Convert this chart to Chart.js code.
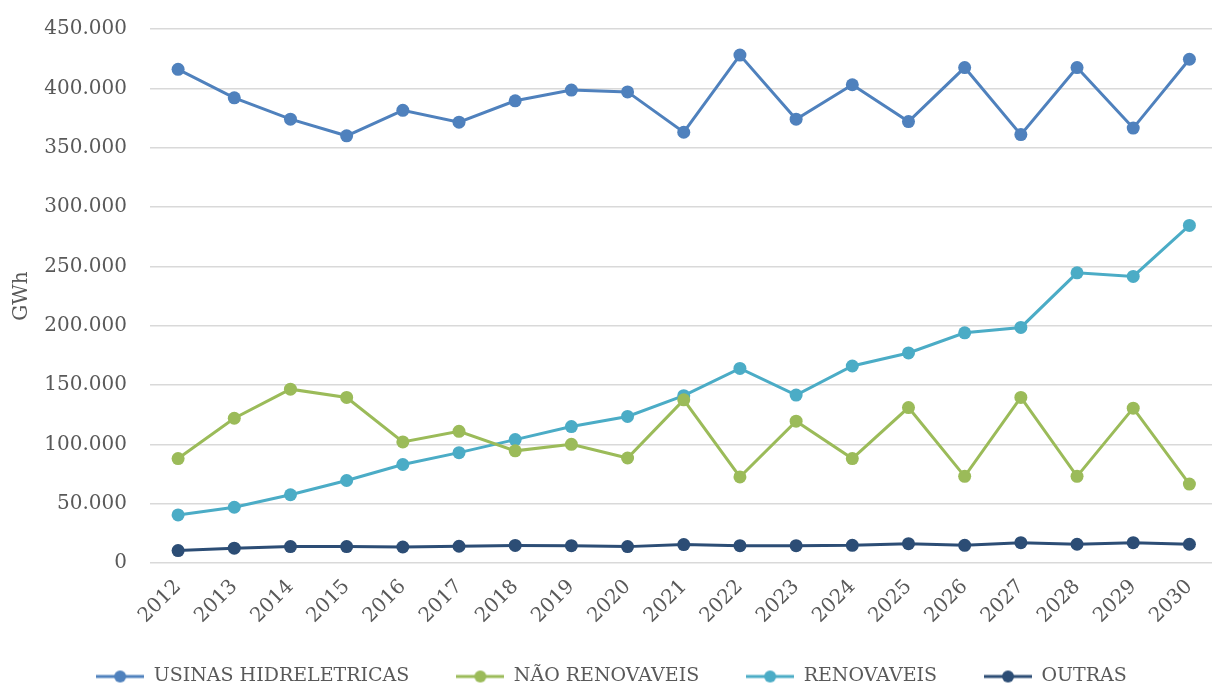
<!DOCTYPE html>
<html lang="pt">
<head>
<meta charset="utf-8">
<title>Geração de energia (GWh)</title>
<script src="https://cdn.jsdelivr.net/npm/chart.js@4/dist/chart.umd.min.js"></script>
<style>
  html, body { margin: 0; padding: 0; background: #fff; overflow: hidden; }
  #wrap { position: relative; width: 1224px; height: 696px; }
</style>
</head>
<body>
<div id="wrap"><canvas id="chart"></canvas></div>
<script>
// anos e séries (GWh)
const anos = [
  "2012", "2013", "2014", "2015", "2016", "2017", "2018", "2019", "2020", "2021",
  "2022", "2023", "2024", "2025", "2026", "2027", "2028", "2029", "2030",
];
const hidreletricas = [
  416000, 392000, 374000, 360000, 381500, 371500, 389500, 398500, 397000, 363000,
  428000, 374000, 403000, 372000, 417500, 361000, 417500, 366500, 424500,
];
const naoRenovaveis = [
  88000, 122000, 146500, 139500, 102000, 111000, 94500, 100000, 88500, 137500,
  72500, 119500, 88000, 131000, 73000, 139500, 73000, 130500, 66500,
];
const renovaveis = [
  40500, 47000, 57500, 69500, 83000, 93000, 104000, 115000, 123500, 141000,
  164000, 141500, 166000, 177000, 194000, 198500, 244500, 241500, 284500,
];
const outras = [
  10500, 12500, 13800, 13800, 13500, 14100, 14800, 14600, 13800, 15500,
  14600, 14600, 14900, 16300, 14900, 17100, 15800, 17100, 15800,
];
const yTicks = [0, 50000, 100000, 150000, 200000, 250000, 300000, 350000, 400000, 450000];

const series = [
  { label: "USINAS HIDRELETRICAS", data: hidreletricas, color: "#4F81BD" },
  { label: "NÃO RENOVAVEIS", data: naoRenovaveis, color: "#9BBB59" },
  { label: "RENOVAVEIS", data: renovaveis, color: "#4BACC6" },
  { label: "OUTRAS", data: outras, color: "#2C4D75" },
];

Chart.defaults.font.family = "'DejaVu Serif', serif";
Chart.defaults.font.size = 20;
Chart.defaults.color = "#595959";

// 1.234.567
const milhar = (v) => String(v).replace(/\B(?=(\d{3})+(?!\d))/g, ".");

// marcador da legenda: linha com bolinha
function legendMarker(color) {
  const c = document.createElement("canvas");
  c.width = 48;
  c.height = 14;
  const g = c.getContext("2d");
  g.strokeStyle = color;
  g.lineWidth = 3;
  g.beginPath();
  g.moveTo(0, 7);
  g.lineTo(48, 7);
  g.stroke();
  g.fillStyle = color;
  g.beginPath();
  g.arc(24, 7, 6, 0, Math.PI * 2);
  g.fill();
  return c;
}
const markers = series.map((s) => legendMarker(s.color));

const ctx = document.getElementById("chart").getContext("2d");
new Chart(ctx, {
  type: "line",
  data: {
    labels: anos,
    datasets: series.map((s) => ({
      label: s.label,
      data: s.data,
      borderColor: s.color,
      backgroundColor: s.color,
      borderWidth: 3,
      pointRadius: 6.5,
      pointBorderWidth: 0,
      pointHoverRadius: 6.5,
      tension: 0,
    })),
  },
  options: {
    responsive: true,
    maintainAspectRatio: false,
    animation: false,
    layout: { padding: { top: 29, left: 0, right: 1, bottom: 0 } },
    plugins: {
      tooltip: { enabled: false },
      legend: {
        position: "bottom",
        labels: {
          usePointStyle: true,
          pointStyleWidth: 48,
          boxHeight: 14,
          padding: 47,
          font: { size: 19 },
          generateLabels(chart) {
            const items = Chart.defaults.plugins.legend.labels.generateLabels(chart);
            items.forEach((it, i) => (it.pointStyle = markers[i]));
            return items;
          },
        },
      },
    },
    scales: {
      x: {
        offset: true,
        grid: { display: false },
        border: { display: false },
        ticks: { minRotation: 45, maxRotation: 45, padding: 4 },
        afterFit(scale) {
          scale.height = 57;
          // os anos inclinados passam um pouco da faixa do eixo
          scale._computeLabelArea = () => undefined;
        },
      },
      y: {
        min: 0,
        max: 450000,
        afterBuildTicks(scale) {
          scale.ticks = yTicks.map((v) => ({ value: v }));
        },
        afterFit(scale) {
          scale.width = 150;
          scale.paddingTop = 0;
          scale.paddingBottom = 0;
        },
        grid: { color: "#D9D9D9", lineWidth: 1.5, drawTicks: false },
        border: { display: false },
        ticks: { padding: 23, callback: (v) => milhar(v) },
        title: { display: true, text: "GWh", padding: { top: 10, bottom: 4 } },
      },
    },
  },
});
</script>
</body>
</html>
